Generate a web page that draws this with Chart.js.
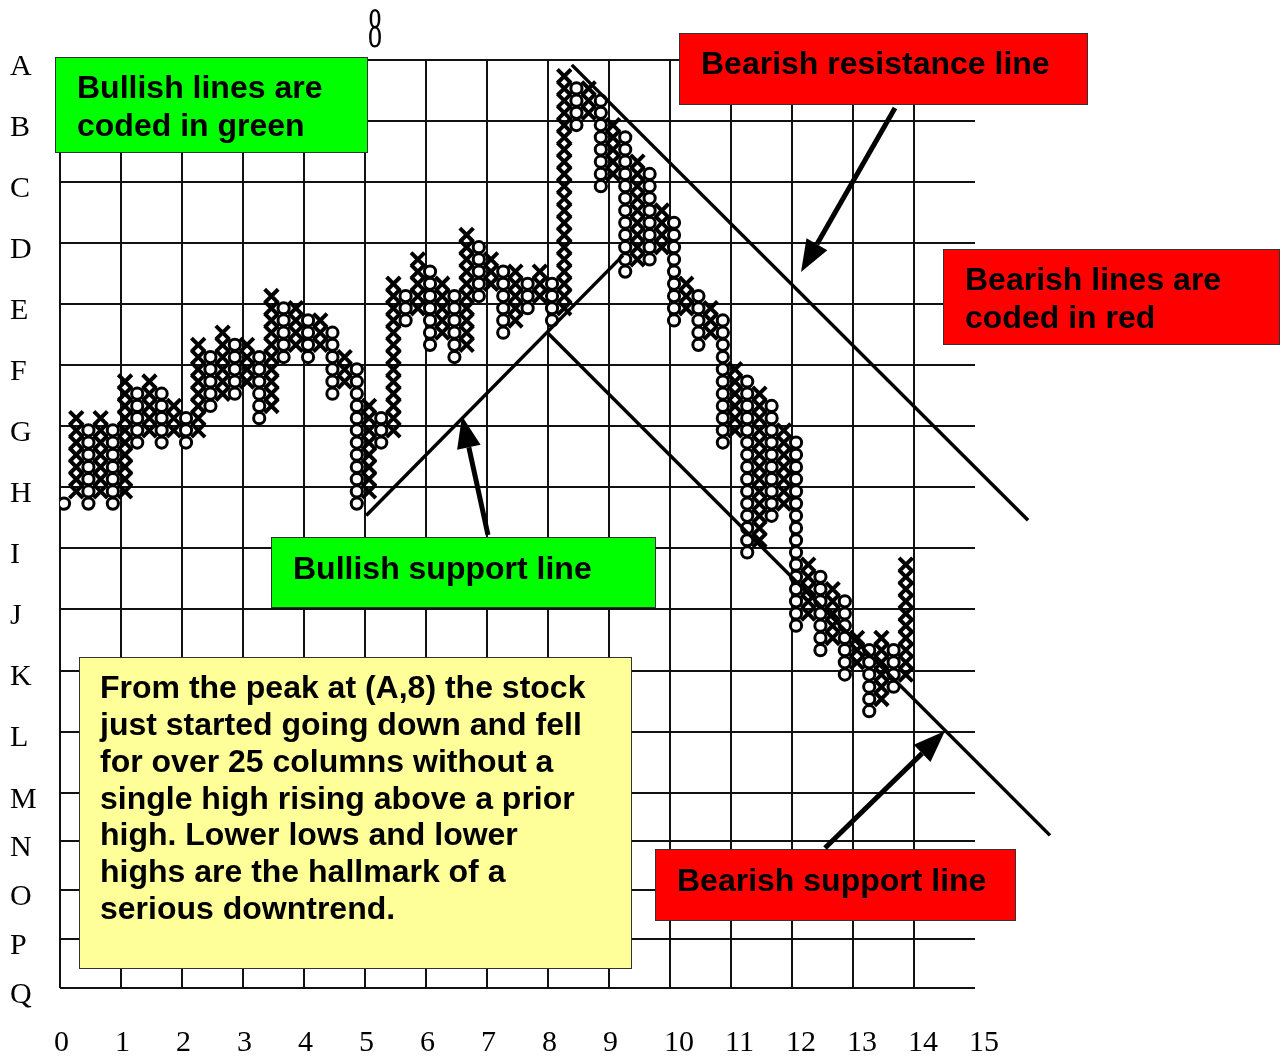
<!DOCTYPE html>
<html>
<head>
<meta charset="utf-8">
<script src="https://cdn.jsdelivr.net/npm/chart.js@4.4.1/dist/chart.umd.min.js"></script>
<style>
html,body{margin:0;padding:0;background:#ffffff;}
#wrap{width:1288px;height:1057px;position:relative;}
</style>
</head>
<body>
<div id="wrap"><canvas id="c" width="1288" height="1057"></canvas></div>
<script>
// ---------- data ----------
const xTickLabels = ['0','1','2','3','4','5','6','7','8','9','10','11','12','13','14','15'];
const yTickLabels = ['A','B','C','D','E','F','G','H','I','J','K','L','M','N','O','P','Q'];
const yTickValues = [0,1,2,3,4,5,6,7,8,9,10,11,12,12.8,13.6,14.4,15.2];

// Point & figure columns (box rows counted downward from row A)
const columnTypes = ['O','X','O','X','O','X','O','X','O','X',
                     'O','X','O','X','O','X','O','X','O','X',
                     'O','X','O','X','O','X','O','X','O','X',
                     'O','X','O','X','O','X','O','X','O','X',
                     'O','X','O','X','O','X','O','X','O','X',
                     'O','X','O','X','O','X','O','X','O','X',
                     'O','X','O','X','O','X','O','X','O','X'];
const columnTopBox = [36,29,30,29,30,26,27,26,27,28,
                      29,23,24,22,23,23,24,19,20,20,
                      21,21,22,24,25,28,29,18,19,16,
                      17,18,19,14,15,16,17,17,18,17,
                      18, 1, 2, 2, 3, 5, 6, 8, 9,12,
                      13,18,19,20,21,25,26,27,28,30,
                      31,41,42,43,44,47,48,47,48,41];
const columnBottomBox = [36,35,36,35,36,35,31,30,31,30,
                         31,30,28,27,27,26,29,28,24,23,
                         24,23,27,26,36,35,31,30,21,20,
                         23,22,24,23,19,18,22,21,20,19,
                         21,20, 5, 4,10, 9,17,16,16,15,
                         21,20,23,22,31,30,40,39,37,36,
                         46,45,48,47,50,49,53,52,51,50];
const boxSize = 0.2;        // axis units per box / per column
const firstColumnX = 0.066; // centre of first column in x units
const firstBoxY = 0.066;    // centre of top box row in y units

// Trend lines (axis units)
const resistanceLine = [{x:8.39,y:0.08},{x:15.87,y:7.54}];
const bullishSupportLine = [{x:5.02,y:7.46},{x:9.23,y:3.20}];
const bearishSupportLine = [{x:8.00,y:4.475},{x:16.23,y:12.70}];

// Annotation texts
const noteTexts = {
  bullishCoded: ['Bullish lines are','coded in green'],
  resistance: ['Bearish resistance line'],
  bearishCoded: ['Bearish lines are','coded in red'],
  bullishSupport: ['Bullish support line'],
  story: ['From the peak at (A,8) the stock','just started going down and fell','for over 25 columns without a','single high rising above a prior','high. Lower lows and lower','highs are the hallmark of a','serious downtrend.'],
  bearishSupport: ['Bearish support line']
};
const topMarker = '8';

// ---------- build symbol points ----------
const xPoints = [], oPoints = [];
columnTopBox.forEach((top, k) => {
  const bottom = columnBottomBox[k];
  for (let r = top; r <= bottom; r++) {
    const p = {x: firstColumnX + k * boxSize, y: firstBoxY + r * boxSize};
    (columnTypes[k] === 'X' ? xPoints : oPoints).push(p);
  }
});

// ---------- annotation layout (pixels) ----------
const boxLayout = [
  {key:'bullishCoded', x:55, y:57, w:313, h:96, fill:'#00ff00', tx:77, ty:89, lh:38},
  {key:'resistance', x:679, y:33, w:409, h:72, fill:'#ff0000', tx:701, ty:65, lh:38},
  {key:'bearishCoded', x:943, y:249, w:337, h:96, fill:'#ff0000', tx:965, ty:281, lh:38},
  {key:'bullishSupport', x:271, y:537, w:385, h:71, fill:'#00ff00', tx:293, ty:570, lh:38},
  {key:'story', x:79, y:657, w:553, h:312, fill:'#ffff99', tx:100, ty:689, lh:36.9},
  {key:'bearishSupport', x:655, y:849, w:361, h:72, fill:'#ff0000', tx:677, ty:882, lh:38}
];
const arrowLayout = [
  {from:[895,108], to:[801,272]},
  {from:[488,535], to:[462,416]},
  {from:[825,848], to:[945,731]}
];

const annotationPlugin = {
  id: 'annotationPlugin',
  afterDraw(chart) {
    const ctx = chart.ctx;
    ctx.save();
    // top marker "8"
    ctx.save();
    ctx.translate(375, 47);
    ctx.scale(1, 2.05);
    ctx.font = '28px "Liberation Serif", "Times New Roman", serif';
    ctx.textAlign = 'center';
    ctx.textBaseline = 'alphabetic';
    ctx.fillStyle = '#000';
    ctx.fillText(topMarker, 0, 0);
    ctx.restore();

    // boxes
    boxLayout.forEach(b => {
      ctx.fillStyle = b.fill;
      ctx.fillRect(b.x, b.y, b.w, b.h);
      ctx.lineWidth = 1;
      ctx.strokeStyle = '#333';
      ctx.strokeRect(b.x + 0.5, b.y + 0.5, b.w - 1, b.h - 1);
      ctx.fillStyle = '#000';
      ctx.font = 'bold 32px "Liberation Sans", Arial, sans-serif';
      ctx.textAlign = 'left';
      ctx.textBaseline = 'middle';
      noteTexts[b.key].forEach((t, i) => ctx.fillText(t, b.tx, b.ty + i * b.lh));
    });

    // arrows
    arrowLayout.forEach(a => {
      const [x1, y1] = a.from, [x2, y2] = a.to;
      const ang = Math.atan2(y2 - y1, x2 - x1);
      const headLen = 32, headHalf = 12;
      const bx = x2 - headLen * Math.cos(ang), by = y2 - headLen * Math.sin(ang);
      ctx.strokeStyle = '#000';
      ctx.lineWidth = 5;
      ctx.lineCap = 'butt';
      ctx.beginPath();
      ctx.moveTo(x1, y1);
      ctx.lineTo(bx, by);
      ctx.stroke();
      ctx.fillStyle = '#000';
      ctx.beginPath();
      ctx.moveTo(x2, y2);
      ctx.lineTo(bx + headHalf * Math.sin(ang), by - headHalf * Math.cos(ang));
      ctx.lineTo(bx - headHalf * Math.sin(ang), by + headHalf * Math.cos(ang));
      ctx.closePath();
      ctx.fill();
    });
    ctx.restore();
  }
};

const lineStyle = {
  type: 'line', showLine: true, borderColor: '#000', borderWidth: 3.5,
  pointRadius: 0, fill: false, clip: false, order: 0, tension: 0
};

new Chart(document.getElementById('c'), {
  type: 'scatter',
  data: {
    datasets: [
      Object.assign({label: 'Bearish resistance', data: resistanceLine}, lineStyle),
      Object.assign({label: 'Bullish support', data: bullishSupportLine}, lineStyle),
      Object.assign({label: 'Bearish support', data: bearishSupportLine}, lineStyle),
      {
        label: 'O', data: oPoints, order: 1,
        pointStyle: 'circle', pointRadius: 5.6, pointBorderWidth: 3,
        pointBackgroundColor: '#ffffff', pointBorderColor: '#000000', showLine: false
      },
      {
        label: 'X', data: xPoints, order: 2,
        pointStyle: 'crossRot', pointRadius: 9.6, pointBorderWidth: 4,
        pointBorderColor: '#000000', showLine: false
      }
    ]
  },
  options: {
    responsive: false,
    animation: false,
    events: [],
    layout: {padding: {left: 10, top: 60, right: 313, bottom: 0}},
    plugins: {legend: {display: false}, tooltip: {enabled: false}},
    scales: {
      x: {
        type: 'linear', min: 0, max: 15,
        afterFit(scale) { scale.height = 69; },
        afterBuildTicks(scale) { scale.ticks = xTickLabels.map((l, i) => ({value: i})); },
        ticks: {
          autoSkip: false, maxRotation: 0, minRotation: 0, align: 'start', labelOffset: -6,
          padding: 37, color: '#000',
          font: {family: '"Liberation Serif", "Times New Roman", serif', size: 30},
          callback: (v, i) => xTickLabels[i]
        },
        grid: {
          drawTicks: false, lineWidth: 2,
          color: c => (c.tick && c.tick.value === 15) ? 'rgba(0,0,0,0)' : '#111'
        },
        border: {display: false}
      },
      y: {
        type: 'linear', min: 0, max: 15.2, reverse: true,
        afterFit(scale) { scale.width = 50; },
        afterBuildTicks(scale) { scale.ticks = yTickValues.map(v => ({value: v})); },
        ticks: {
          autoSkip: false, crossAlign: 'far', labelOffset: 7, padding: 0, color: '#000',
          font: {family: '"Liberation Serif", "Times New Roman", serif', size: 30},
          callback: (v, i) => yTickLabels[i]
        },
        grid: {drawTicks: false, lineWidth: 2, color: '#111'},
        border: {display: false}
      }
    }
  },
  plugins: [annotationPlugin]
});
</script>
</body>
</html>
